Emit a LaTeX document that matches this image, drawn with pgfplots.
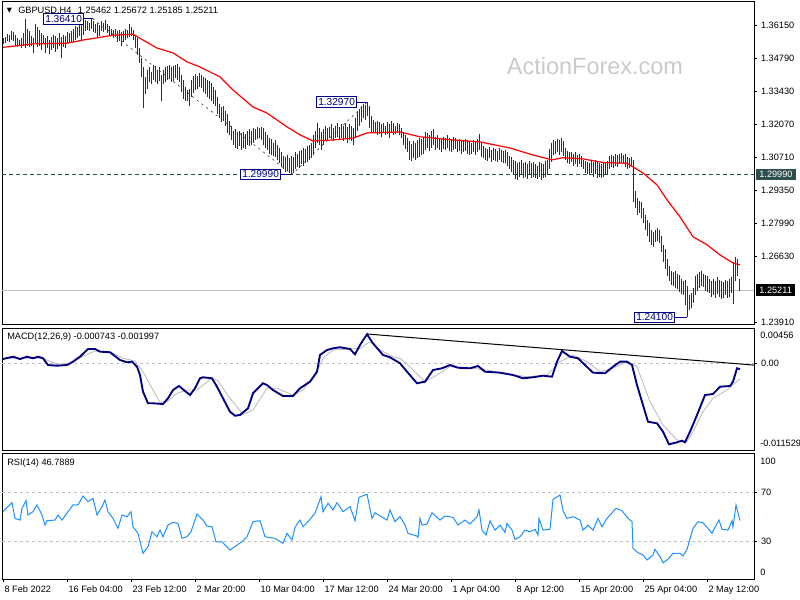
\documentclass[border=0pt]{standalone}
\usepackage{pgfplots}
\pgfplotsset{compat=1.18}
\usepackage{pgfplotstable}
\usepackage{fontspec}
\setmainfont{Liberation Sans}
\newfontfamily\symfont{DejaVu Sans}
\definecolor{barcol}{RGB}{20,54,80}
\definecolor{lblnavy}{RGB}{0,0,128}
\definecolor{slate}{RGB}{47,79,79}
\definecolor{wm}{RGB}{202,202,202}
\definecolor{rsiblue}{RGB}{30,144,255}
\definecolor{sig}{RGB}{185,185,185}
\definecolor{silverline}{RGB}{192,192,192}
\newcommand{\lbl}{\fontsize{6.9}{8}\selectfont}
\newcommand{\boxlbl}{\fontsize{7.6}{9}\selectfont}
\pgfplotsset{scaled ticks=false}

\pgfplotstableread{
h l
1.3560 1.3535
1.3565 1.3540
1.3578 1.3548
1.3572 1.3545
1.3590 1.3555
1.3585 1.3550
1.3575 1.3530
1.3560 1.3525
1.3555 1.3530
1.3560 1.3520
1.3580 1.3530
1.3640 1.3520
1.3600 1.3530
1.3590 1.3525
1.3570 1.3530
1.3560 1.3500
1.3620 1.3540
1.3605 1.3525
1.3595 1.3530
1.3580 1.3510
1.3575 1.3535
1.3560 1.3500
1.3570 1.3520
1.3555 1.3495
1.3565 1.3510
1.3575 1.3520
1.3570 1.3505
1.3560 1.3515
1.3580 1.3530
1.3565 1.3480
1.3575 1.3525
1.3570 1.3520
1.3585 1.3535
1.3580 1.3540
1.3590 1.3545
1.3600 1.3550
1.3610 1.3555
1.3605 1.3560
1.3620 1.3570
1.3615 1.3555
1.3625 1.3575
1.3635 1.3590
1.3630 1.3595
1.3625 1.3590
1.3641 1.3600
1.3630 1.3585
1.3620 1.3580
1.3625 1.3560
1.3615 1.3570
1.3630 1.3590
1.3625 1.3585
1.3635 1.3595
1.3620 1.3580
1.3610 1.3575
1.3600 1.3570
1.3595 1.3560
1.3600 1.3565
1.3590 1.3545
1.3595 1.3550
1.3585 1.3530
1.3590 1.3545
1.3600 1.3555
1.3595 1.3560
1.3618 1.3565
1.3605 1.3570
1.3595 1.3555
1.3575 1.3520
1.3560 1.3490
1.3520 1.3460
1.3480 1.3400
1.3440 1.3272
1.3400 1.3330
1.3430 1.3350
1.3440 1.3380
1.3420 1.3370
1.3450 1.3390
1.3445 1.3380
1.3430 1.3370
1.3440 1.3385
1.3410 1.3300
1.3430 1.3370
1.3440 1.3380
1.3445 1.3390
1.3450 1.3395
1.3440 1.3380
1.3445 1.3385
1.3450 1.3395
1.3455 1.3390
1.3440 1.3380
1.3410 1.3340
1.3390 1.3310
1.3360 1.3300
1.3345 1.3300
1.3350 1.3280
1.3390 1.3320
1.3405 1.3335
1.3412 1.3345
1.3405 1.3350
1.3418 1.3360
1.3410 1.3355
1.3400 1.3340
1.3395 1.3330
1.3388 1.3320
1.3385 1.3310
1.3375 1.3300
1.3360 1.3290
1.3345 1.3280
1.3320 1.3250
1.3290 1.3230
1.3275 1.3215
1.3280 1.3220
1.3260 1.3200
1.3250 1.3170
1.3220 1.3160
1.3200 1.3140
1.3180 1.3120
1.3185 1.3110
1.3175 1.3105
1.3180 1.3115
1.3170 1.3100
1.3175 1.3110
1.3165 1.3105
1.3180 1.3120
1.3185 1.3115
1.3180 1.3120
1.3190 1.3130
1.3185 1.3140
1.3195 1.3145
1.3190 1.3150
1.3195 1.3140
1.3190 1.3120
1.3175 1.3110
1.3160 1.3100
1.3150 1.3085
1.3145 1.3080
1.3130 1.3075
1.3140 1.3070
1.3120 1.3060
1.3110 1.3045
1.3090 1.3030
1.3075 1.3020
1.3070 1.3010
1.3080 1.3015
1.3065 1.3005
1.3075 1.2999
1.3070 1.3005
1.3090 1.3020
1.3085 1.3030
1.3095 1.3025
1.3100 1.3040
1.3110 1.3035
1.3105 1.3045
1.3115 1.3050
1.3120 1.3060
1.3130 1.3065
1.3160 1.3080
1.3180 1.3110
1.3210 1.3130
1.3190 1.3120
1.3175 1.3100
1.3185 1.3120
1.3200 1.3135
1.3190 1.3140
1.3195 1.3150
1.3205 1.3145
1.3190 1.3135
1.3200 1.3150
1.3210 1.3155
1.3195 1.3140
1.3205 1.3150
1.3200 1.3135
1.3210 1.3145
1.3195 1.3130
1.3205 1.3140
1.3200 1.3135
1.3190 1.3120
1.3230 1.3150
1.3255 1.3180
1.3270 1.3200
1.3280 1.3215
1.3290 1.3230
1.3285 1.3225
1.3297 1.3240
1.3280 1.3190
1.3240 1.3175
1.3225 1.3170
1.3215 1.3170
1.3220 1.3160
1.3215 1.3165
1.3205 1.3155
1.3210 1.3170
1.3200 1.3160
1.3215 1.3165
1.3205 1.3150
1.3220 1.3170
1.3210 1.3160
1.3200 1.3165
1.3210 1.3170
1.3205 1.3160
1.3190 1.3150
1.3175 1.3120
1.3160 1.3105
1.3150 1.3090
1.3135 1.3060
1.3125 1.3055
1.3135 1.3065
1.3130 1.3058
1.3140 1.3065
1.3150 1.3070
1.3145 1.3080
1.3155 1.3085
1.3175 1.3100
1.3170 1.3110
1.3160 1.3095
1.3180 1.3110
1.3185 1.3120
1.3155 1.3100
1.3160 1.3110
1.3150 1.3100
1.3145 1.3090
1.3155 1.3105
1.3150 1.3100
1.3160 1.3110
1.3150 1.3095
1.3145 1.3090
1.3155 1.3100
1.3150 1.3105
1.3140 1.3090
1.3145 1.3095
1.3140 1.3085
1.3135 1.3090
1.3145 1.3095
1.3140 1.3085
1.3135 1.3080
1.3130 1.3085
1.3140 1.3090
1.3135 1.3080
1.3145 1.3090
1.3166 1.3100
1.3130 1.3070
1.3115 1.3065
1.3110 1.3060
1.3105 1.3055
1.3112 1.3065
1.3100 1.3050
1.3110 1.3060
1.3105 1.3055
1.3095 1.3050
1.3110 1.3060
1.3100 1.3050
1.3095 1.3045
1.3100 1.3045
1.3090 1.3035
1.3075 1.3020
1.3070 1.3010
1.3060 1.2995
1.3055 1.2980
1.3045 1.2976
1.3050 1.2990
1.3060 1.2995
1.3045 1.2985
1.3050 1.2990
1.3040 1.2980
1.3055 1.2995
1.3045 1.2985
1.3050 1.2990
1.3040 1.2985
1.3035 1.2980
1.3050 1.2990
1.3045 1.2976
1.3040 1.2985
1.3055 1.2990
1.3060 1.2995
1.3105 1.3020
1.3130 1.3050
1.3140 1.3080
1.3135 1.3085
1.3145 1.3090
1.3140 1.3080
1.3150 1.3090
1.3135 1.3075
1.3110 1.3060
1.3095 1.3045
1.3090 1.3040
1.3092 1.3050
1.3085 1.3035
1.3090 1.3040
1.3080 1.3030
1.3085 1.3040
1.3075 1.3030
1.3060 1.3020
1.3055 1.3005
1.3050 1.3000
1.3045 1.2995
1.3055 1.3005
1.3050 1.2990
1.3060 1.3000
1.3050 1.2985
1.3045 1.2990
1.3040 1.2985
1.3050 1.2990
1.3045 1.2995
1.3055 1.3000
1.3075 1.3020
1.3080 1.3030
1.3075 1.3025
1.3085 1.3035
1.3080 1.3030
1.3085 1.3040
1.3088 1.3045
1.3080 1.3040
1.3085 1.3030
1.3070 1.3020
1.3065 1.3025
1.3070 1.3030
1.3060 1.2885
1.2930 1.2860
1.2900 1.2830
1.2890 1.2840
1.2885 1.2820
1.2860 1.2800
1.2830 1.2770
1.2810 1.2745
1.2800 1.2720
1.2770 1.2710
1.2760 1.2700
1.2770 1.2720
1.2780 1.2725
1.2770 1.2715
1.2745 1.2680
1.2710 1.2640
1.2690 1.2610
1.2650 1.2580
1.2620 1.2560
1.2600 1.2545
1.2595 1.2540
1.2600 1.2530
1.2590 1.2525
1.2585 1.2515
1.2570 1.2505
1.2560 1.2500
1.2565 1.2460
1.2540 1.2410
1.2500 1.2440
1.2510 1.2450
1.2530 1.2470
1.2580 1.2500
1.2590 1.2520
1.2595 1.2530
1.2600 1.2540
1.2590 1.2535
1.2585 1.2520
1.2580 1.2515
1.2570 1.2510
1.2560 1.2495
1.2570 1.2500
1.2560 1.2490
1.2575 1.2505
1.2565 1.2495
1.2560 1.2485
1.2555 1.2490
1.2565 1.2500
1.2560 1.2490
1.2570 1.2495
1.2575 1.2510
1.2640 1.2465
1.2660 1.2560
1.2650 1.2580
1.2567 1.2519
}\bars

\begin{document}
\begin{tikzpicture}
\path[use as bounding box] (0pt,0pt) rectangle (600pt,450pt);

% ---------------- price panel ----------------
\begin{axis}[
  at={(1.5pt,206.25pt)}, anchor=south west, scale only axis,
  width=564pt, height=242.25pt,
  xmin=-0.5, xmax=375.5, ymin=1.23784, ymax=1.37098,
  clip=false,
  axis line style={black, line width=0.75pt},
  xtick=\empty,
  ytick={1.2391,1.2663,1.2799,1.2935,1.3071,1.3207,1.3343,1.3479,1.3615},
  yticklabels={1.23910,1.26630,1.27990,1.29350,1.30710,1.32070,1.33430,1.34790,1.36150},
  ytick pos=right, yticklabel pos=right,
  tick align=outside, major tick length=2.25pt,
  tick style={black, line width=0.5pt},
  tick label style={font=\lbl},
  yticklabel style={anchor=west, xshift=-0.5pt},
]
\addplot[silverline, line width=0.75pt] coordinates {(-0.5,1.25211) (375.5,1.25211)};
\addplot[slate, line width=0.75pt, dash pattern=on 3pt off 2.25pt] coordinates {(-0.5,1.2999) (375.5,1.2999)};
\addplot[black!75, line width=0.5pt, dash pattern=on 1.5pt off 3pt] coordinates {(45,1.3641) (144.5,1.2999) (182,1.3297)};
\addplot[barcol, line width=0.7pt, -, quiver={u=0, v=\thisrow{l}-\thisrow{h}}] table[x expr=\coordindex, y=h] {\bars};
\addplot[red, line width=0.9pt] coordinates {
(0,1.3523) (15,1.3537) (32,1.3540) (40,1.3553) (48.5,1.3564) (55,1.3573) (65,1.3577)
(70,1.3553) (77,1.3520) (85,1.3500) (92,1.3463) (98.5,1.3442) (108.5,1.3401) (115,1.3347)
(125,1.3277) (132,1.3252) (142,1.3195) (148.5,1.3162) (155,1.3137) (165,1.3141) (175,1.3149)
(182,1.3170) (198.5,1.3174) (208.5,1.3154) (225,1.3141) (238.5,1.3133) (253.5,1.3108)
(265,1.3079) (274.5,1.3059) (280,1.3068) (290,1.3063) (300,1.3048) (312,1.3045) (320,1.3005)
(327,1.2956) (332,1.2894) (338.5,1.2824) (345,1.2742) (352,1.2709) (358.5,1.2667)
(365,1.2634) (368.5,1.2626)};
% zigzag labels
\tikzset{lbox/.style={draw=lblnavy, fill=white, text=lblnavy, font=\boxlbl, line width=0.75pt, inner xsep=1.2pt, inner ysep=1.3pt}}
\draw[lblnavy, line width=0.75pt] (axis cs:40.5,1.3641) -- (axis cs:45,1.3641);
\node[lbox, anchor=east] at (axis cs:40.5,1.3641) {1.36410};
\draw[lblnavy, line width=0.75pt] (axis cs:177,1.3297) -- (axis cs:182,1.3297);
\node[lbox, anchor=east] at (axis cs:177,1.3297) {1.32970};
\draw[lblnavy, line width=0.75pt] (axis cs:139,1.2999) -- (axis cs:144.5,1.2999);
\node[lbox, anchor=east] at (axis cs:139,1.2999) {1.29990};
\draw[lblnavy, line width=0.75pt] (axis cs:336,1.2410) -- (axis cs:342,1.2410);
\node[lbox, anchor=east] at (axis cs:336,1.2410) {1.24100};
% right badges
\node[anchor=west, fill=slate, text=white, font=\lbl, inner xsep=2.6pt, inner ysep=2pt, xshift=1.2pt] at (axis cs:375.5,1.2999) {1.29990};
\node[anchor=west, fill=black, text=white, font=\lbl, inner xsep=2.6pt, inner ysep=2pt, xshift=1.2pt] at (axis cs:375.5,1.25211) {1.25211};
\end{axis}

% ---------------- MACD panel ----------------
\begin{axis}[
  at={(1.5pt,111.75pt)}, anchor=south west, scale only axis,
  width=564pt, height=91.5pt,
  xmin=-0.5, xmax=375.5, ymin=-0.011529, ymax=0.00456,
  clip=false,
  axis line style={black, line width=0.75pt},
  xtick=\empty,
  ytick={0}, yticklabels={0.00},
  ytick pos=right, yticklabel pos=right,
  tick align=outside, major tick length=2.25pt,
  tick style={black, line width=0.5pt},
  tick label style={font=\lbl},
  yticklabel style={anchor=west, xshift=-0.5pt},
]
\addplot[silverline, line width=0.6pt, dash pattern=on 2.25pt off 2.25pt] coordinates {(-0.5,0) (375.5,0)};
\addplot[sig, line width=0.6pt] coordinates {
(0,0.00070) (8.5,0.00070) (20,0.00070) (27,-0.00010) (33.5,0.00004) (39.5,0.00091) (46,0.00166)
(53.5,0.00157) (60,0.00070) (66,0.00034) (70,-0.00107) (74.5,-0.00326) (78.5,-0.00511)
(82,-0.00503) (87,-0.00392) (92,-0.00349) (97,-0.00349) (103.5,-0.00208) (107,-0.00217)
(113.5,-0.00458) (120,-0.00669) (125,-0.00612) (132,-0.00326) (137,-0.00326) (145,-0.00415)
(150,-0.00349) (156,-0.00151) (160,0.00070) (165,0.00179) (173.5,0.00192) (178.5,0.00201)
(183.5,0.00289) (188.5,0.00179) (195,0.00091) (198.5,0.00070) (203.5,-0.00041) (211,-0.00239)
(217,-0.00151) (223.5,-0.00041) (232,-0.00055) (242,-0.00085) (253.5,-0.00142) (262,-0.00173)
(272,-0.00151) (278.5,0.00025) (285,0.00113) (292,0.00025) (298.5,-0.00107) (305,-0.00062)
(312,0.00025) (317,-0.00041) (323.5,-0.00503) (330,-0.00810) (337,-0.01008) (342,-0.01031)
(345,-0.00899) (350,-0.00635) (355,-0.00458) (362,-0.00349) (368.5,-0.001997)};
\addplot[lblnavy, line width=1.4pt] coordinates {
(0,0.00060) (5,0.00091) (8.5,0.00060) (12,0.00091) (15,0.00070) (17.5,0.00091) (20,0.00070)
(22.5,-0.00019) (27,-0.00028) (32,-0.00019) (35,0.00025) (38.5,0.00091) (42.5,0.00192)
(46,0.00192) (48.5,0.00157) (53.5,0.00149) (58.5,0.00047) (62,0.00017) (64.5,0.00025)
(67,-0.00041) (68.5,-0.00151) (70,-0.00371) (72.5,-0.00524) (75,-0.00524) (80,-0.00533)
(82.5,-0.00458) (85,-0.00349) (88,-0.00296) (91,-0.00362) (93.5,-0.00415) (96,-0.00326)
(98.5,-0.00194) (100,-0.00181) (104.5,-0.00194) (107,-0.00305) (110,-0.00458) (113.5,-0.00635)
(116,-0.00688) (118.5,-0.00678) (122.5,-0.00590) (125,-0.00392) (130,-0.00260) (132,-0.00283)
(135,-0.00349) (140,-0.00428) (145,-0.00428) (148.5,-0.00326) (153.5,-0.00239) (157,-0.00107)
(158.5,0.00113) (162,0.00179) (165,0.00201) (168.5,0.00215) (173.5,0.00192) (176,0.00122)
(178.5,0.00245) (182,0.00386) (185,0.00267) (190,0.00113) (193.5,0.00083) (198.5,0.00004)
(202,-0.00107) (207,-0.00260) (211,-0.00239) (215,-0.00085) (219.5,-0.00062) (223.5,-0.00019)
(227.5,-0.00055) (233.5,-0.00062) (237.5,-0.00032) (241,-0.00107) (248.5,-0.00120)
(255,-0.00151) (260,-0.00194) (265,-0.00181) (270,-0.00160) (274.5,-0.00173) (277,0.00025)
(279.5,0.00166) (283.5,0.00091) (287.5,0.00070) (291,-0.00019) (295,-0.00120) (301,-0.00128)
(305,-0.00041) (308.5,0.00025) (312,0.00025) (314.5,-0.00019) (317,-0.00283) (319.5,-0.00503)
(322.5,-0.00767) (327,-0.00788) (330,-0.00899) (333,-0.01065) (337,-0.01038) (339.5,-0.01017)
(341,-0.01038) (343.5,-0.00899) (347,-0.00678) (351,-0.00415) (355,-0.00401) (358.5,-0.00305)
(363.5,-0.00296) (365,-0.00239) (367,-0.00062) (368.5,-0.000743)};
\addplot[black, line width=0.75pt] coordinates {(182,0.00390) (375.5,-0.00020)};
\node[anchor=west, font=\lbl, xshift=1.2pt, yshift=-4.5pt] at (axis cs:375.5,0.00456) {0.00456};
\node[anchor=west, font=\lbl, xshift=1.2pt, yshift=6pt] at (axis cs:375.5,-0.011529) {-0.011529};
\end{axis}

% ---------------- RSI panel ----------------
\begin{axis}[
  at={(1.5pt,15.75pt)}, anchor=south west, scale only axis,
  width=564pt, height=93.75pt,
  xmin=-0.5, xmax=375.5, ymin=-1.2, ymax=101.5,
  clip=false,
  axis line style={black, line width=0.75pt},
  xtick={0,32,...,352},
  xticklabels={8 Feb 2022,16 Feb 04:00,23 Feb 12:00,2 Mar 20:00,10 Mar 04:00,17 Mar 12:00,24 Mar 20:00,1 Apr 04:00,8 Apr 12:00,15 Apr 20:00,25 Apr 04:00,2 May 12:00},
  xtick pos=bottom,
  ytick={30,70}, yticklabels={30,70},
  ytick pos=right, yticklabel pos=right,
  tick align=outside, major tick length=2.25pt,
  tick style={black, line width=0.5pt},
  tick label style={font=\lbl},
  yticklabel style={anchor=west, xshift=-0.5pt},
  xticklabel style={anchor=north west, xshift=-2.4pt, yshift=0.5pt},
]
\addplot[silverline, line width=0.6pt, dash pattern=on 2.25pt off 2.25pt] coordinates {(-0.5,70) (375.5,70)};
\addplot[silverline, line width=0.6pt, dash pattern=on 2.25pt off 2.25pt] coordinates {(-0.5,30) (375.5,30)};
\addplot[rsiblue, line width=0.75pt] coordinates {
(0,54.1) (4.5,61.5) (6,48.6) (8.5,47.2) (9.5,56.9) (11.5,63.1) (12.5,51.4) (15,54.1) (17,59.6)
(19.5,51.4) (21,43.1) (22,46.7) (26,47.2) (27.5,51.4) (29.5,47.2) (32.5,54.1) (35,59.6)
(37.5,59.6) (40,67.0) (42.5,62.3) (45,65.0) (47,51.4) (49.5,58.2) (51,63.7) (52.5,54.1)
(55,48.6) (57.5,40.4) (59.5,51.4) (62,50.0) (64,54.1) (65,41.7) (67.5,36.3) (70,19.9)
(72.5,25.3) (74.5,37.6) (77,33.5) (78.5,39.0) (80,33.5) (82.5,43.1) (85,45.4) (87.5,44.5)
(89.5,32.2) (92,33.5) (94,37.6) (97,52.2) (100,47.2) (102,42.3) (104.5,41.7) (106.5,29.4)
(109.5,29.4) (113.5,22.6) (117,26.7) (119.5,29.4) (122,33.5) (125,45.9) (128.5,46.7)
(131,33.5) (136,32.2) (140,28.1) (142,36.3) (144.5,30.8) (146,41.3) (148.5,47.2) (150,41.7)
(152.5,45.9) (156,52.8) (159,66.4) (160,54.1) (162.5,61.0) (165,55.5) (167,61.5) (170,54.1)
(173.5,58.2) (176,46.7) (178,65.9) (182,68.4) (184.5,48.6) (186,53.2) (192,47.2) (193.5,55.5)
(196,45.9) (198.5,50.0) (201,43.1) (202.5,36.3) (207,34.1) (207.5,33.0) (208.5,48.6)
(209.5,43.1) (212,44.0) (214.5,53.2) (218.5,47.2) (221,50.5) (225,49.5) (227.5,43.1)
(231,47.2) (233.5,44.0) (237,50.0) (238,55.5) (239.5,39.0) (241.5,34.9) (243.5,46.7)
(246,39.0) (248.5,43.1) (251,37.1) (252,44.5) (254.5,39.0) (256,31.4) (258.5,33.5) (261,39.0)
(263.5,37.6) (266,39.6) (267.5,34.9) (268,48.6) (270,39.0) (273.5,39.6) (275,64.2) (278.5,67.8)
(280,54.9) (282,48.6) (285,50.0) (288.5,47.2) (290,39.0) (292.5,43.1) (295,39.0) (297.5,48.6)
(299.5,41.7) (302,48.6) (305,54.1) (306.5,56.9) (309.5,54.9) (312.5,48.6) (314.5,45.9)
(315,24.0) (317.5,20.4) (320,18.5) (322,14.4) (325,18.5) (326,23.2) (328.5,17.1) (330,12.2)
(332.5,15.0) (335,19.9) (338.5,19.9) (340,17.7) (342,23.2) (345,40.4) (347.5,45.9) (350,45.0)
(352,41.3) (354.5,36.3) (356,41.3) (358,47.2) (359.5,39.6) (362.5,39.0) (364.5,46.7)
(365,41.7) (366.5,59.6) (368.5,46.8)};
\node[anchor=west, font=\lbl, xshift=1.2pt, yshift=-4pt] at (axis cs:375.5,100) {100};
\node[anchor=west, font=\lbl, xshift=1.2pt, yshift=3.6pt] at (axis cs:375.5,0) {0};
\end{axis}

% ---------------- texts ----------------
\node[font=\symfont\fontsize{5}{6}\selectfont, inner sep=0pt] at (7.1pt,441.75pt) {▼};
\node[anchor=west, font=\lbl, inner sep=0pt] at (13.5pt,441.75pt) {GBPUSD,H4\hspace{3pt} 1.25462 1.25672 1.25185 1.25211};
\node[anchor=west, font=\lbl, inner sep=0pt] at (5.25pt,197.25pt) {MACD(12,26,9) -0.000743 -0.001997};
\node[anchor=west, font=\lbl, inner sep=0pt] at (5.25pt,102.75pt) {RSI(14) 46.7889};
\node[text=wm, font=\fontsize{17.6}{20}\selectfont, inner sep=0pt] at (446.25pt,400.5pt) {ActionForex.com};
\end{tikzpicture}
\end{document}
